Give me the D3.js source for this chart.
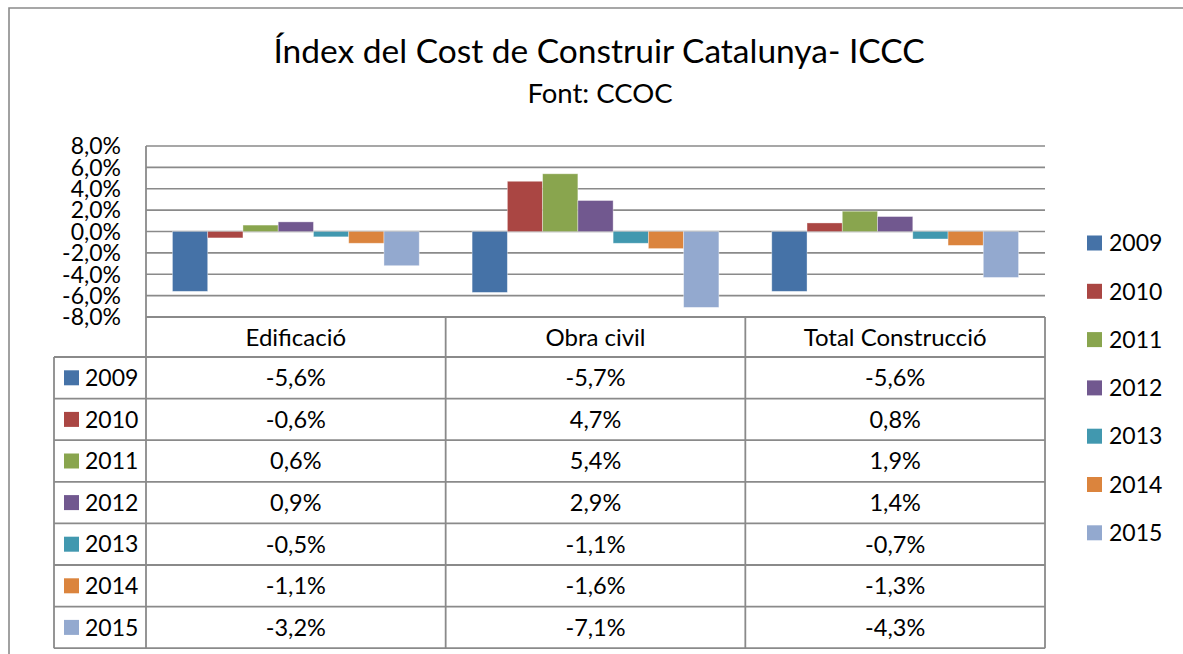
<!DOCTYPE html>
<html>
<head>
<meta charset="utf-8">
<script src="https://cdn.jsdelivr.net/npm/d3@7"></script>
<style>
  body { margin: 0; background: #fff; }
  svg { display: block; font-family: Lato, "Open Sans", sans-serif; }
  .grid line { stroke: #8a8a8a; stroke-width: 1.6; }
  .tbl line { stroke: #8a8a8a; stroke-width: 1.8; }
</style>
</head>
<body>
<svg width="1183" height="654"></svg>
<script>
// chart data
const categories = ['Edificació', 'Obra civil', 'Total Construcció'];
const years = ['2009', '2010', '2011', '2012', '2013', '2014', '2015'];
const v2009 = [-5.6, -5.7, -5.6];
const v2010 = [-0.6, 4.7, 0.8];
const v2011 = [0.6, 5.4, 1.9];
const v2012 = [0.9, 2.9, 1.4];
const v2013 = [-0.5, -1.1, -0.7];
const v2014 = [-1.1, -1.6, -1.3];
const v2015 = [-3.2, -7.1, -4.3];
const yTicks = [8, 6, 4, 2, 0, -2, -4, -6, -8];
const colors = ['#4572A7', '#AA4643', '#89A54E', '#71588F', '#4198AF', '#DB843D', '#93A9CF'];

const series = [v2009, v2010, v2011, v2012, v2013, v2014, v2015];
const fmt = v => v.toFixed(1).replace('.', ',') + '%';

const svg = d3.select('svg');
const plotL = 146, plotR = 1045, plotT = 146, plotB = 317;
const rowH = 41.6, headB = 357, tblL = 54;

// outer chart frame (only top and left visible)
svg.append('path')
    .attr('d', 'M9,654 L9,8 L1183,8')
    .attr('fill', 'none')
    .attr('stroke', '#8a8a8a')
    .attr('stroke-width', 1.6);

// titles
svg.append('text')
    .attr('x', 599).attr('y', 63)
    .attr('text-anchor', 'middle')
    .style('font-size', '33.5px')
    .text('Índex del Cost de Construir Catalunya- ICCC');
svg.append('text')
    .attr('x', 600).attr('y', 103)
    .attr('text-anchor', 'middle')
    .style('font-size', '27.5px')
    .text('Font: CCOC');

var y = d3.scaleLinear().domain([-8, 8]).range([plotB, plotT]);
var x0 = d3.scaleBand().domain(categories).range([plotL, plotR]);
var x1 = d3.scaleBand().domain(years).range([0, x0.bandwidth()]).paddingOuter(0.75);

// gridlines
svg.append('g').attr('class', 'grid')
    .selectAll('line')
    .data(yTicks)
    .enter()
    .append('line')
    .attr('x1', plotL).attr('x2', plotR)
    .attr('y1', d => y(d)).attr('y2', d => y(d));

// y tick labels
svg.append('g')
    .selectAll('text')
    .data(yTicks)
    .enter()
    .append('text')
    .attr('x', 121)
    .attr('y', d => y(d))
    .attr('dy', '0.36em')
    .attr('text-anchor', 'end')
    .style('font-size', '23px')
    .text(fmt);

// bars
series.forEach((vals, i) => {
    svg.append('g')
        .selectAll('rect')
        .data(vals)
        .enter()
        .append('rect')
        .attr('x', (d, j) => x0(categories[j]) + x1(years[i]))
        .attr('width', x1.bandwidth())
        .attr('y', d => y(Math.max(0, d)))
        .attr('height', d => Math.abs(y(d) - y(0)))
        .attr('fill', colors[i])
        .attr('stroke', 'rgba(255,255,255,0.45)')
        .attr('stroke-width', 0.8);
});

// data table
var tbl = svg.append('g').attr('class', 'tbl');
// axis line down through table
tbl.append('line').attr('x1', plotL).attr('x2', plotL).attr('y1', plotT).attr('y2', headB + rowH * years.length);
// vertical column lines
categories.forEach((c, j) => {
    var xx = x0(c) + x0.bandwidth();
    tbl.append('line').attr('x1', xx).attr('x2', xx).attr('y1', plotB).attr('y2', headB + rowH * years.length);
});
tbl.append('line').attr('x1', tblL).attr('x2', tblL).attr('y1', headB).attr('y2', headB + rowH * years.length);
// horizontal lines
tbl.append('line').attr('x1', plotL).attr('x2', plotR).attr('y1', plotB).attr('y2', plotB);
d3.range(years.length + 1).forEach(r => {
    var yy = headB + r * rowH;
    tbl.append('line').attr('x1', tblL).attr('x2', plotR).attr('y1', yy).attr('y2', yy);
});

// header
svg.append('g')
    .selectAll('text')
    .data(categories)
    .enter()
    .append('text')
    .attr('x', d => x0(d) + x0.bandwidth() / 2)
    .attr('y', (plotB + headB) / 2)
    .attr('dy', '0.36em')
    .attr('text-anchor', 'middle')
    .style('font-size', '24px')
    .text(d => d);

// rows
years.forEach((yr, i) => {
    var cy = headB + rowH * i + rowH / 2;
    var row = svg.append('g');
    row.append('rect')
        .attr('x', 64).attr('y', cy - 7.5)
        .attr('width', 15).attr('height', 15)
        .attr('fill', colors[i]);
    row.append('text')
        .attr('x', 85).attr('y', cy).attr('dy', '0.36em')
        .style('font-size', '23px')
        .text(yr);
    row.selectAll('text.val')
        .data(series[i])
        .enter()
        .append('text')
        .attr('class', 'val')
        .attr('x', (d, j) => x0(categories[j]) + x0.bandwidth() / 2)
        .attr('y', cy).attr('dy', '0.36em')
        .attr('text-anchor', 'middle')
        .style('font-size', '23.5px')
        .text(fmt);
});

// legend
var legend = svg.append('g')
    .selectAll('g')
    .data(years)
    .enter()
    .append('g')
    .attr('transform', (d, i) => 'translate(1087,' + (243 + i * 48.3) + ')');
legend.append('rect')
    .attr('y', -7.5).attr('width', 15).attr('height', 15)
    .attr('fill', (d, i) => colors[i]);
legend.append('text')
    .attr('x', 22).attr('dy', '0.36em')
    .style('font-size', '23px')
    .text(d => d);
</script>
</body>
</html>
